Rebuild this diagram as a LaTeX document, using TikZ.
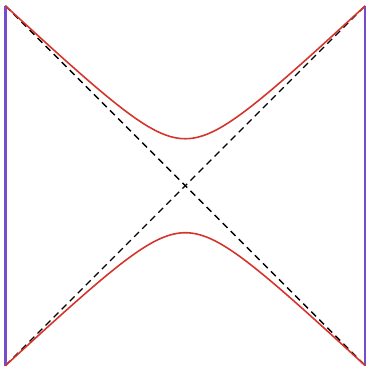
\documentclass[tikz,border=0pt]{standalone}
\usepackage{amsmath, amssymb}
\usepackage[dvipsnames]{xcolor}
\usepackage{tikz}
\usetikzlibrary{positioning}

\definecolor{bdry}{RGB}{120,75,205}
\definecolor{slice}{RGB}{212,52,42}

\begin{document}
\begin{tikzpicture}[scale=1.0]
				\useasboundingbox (-0.09,-0.02) rectangle (6.03,6.097);
				\coordinate (bl) at (0,0);
				\coordinate (br) at (6,0);
				\coordinate (tl) at (0,6);
				\coordinate (tr) at (6,6);
				\draw[black,line width=0.65pt,dash pattern=on 3.2pt off 2.2pt] (bl) -- (tr);
				\draw[black,line width=0.65pt,dash pattern=on 3.2pt off 2.2pt] (tl) -- (br);
				\draw[bdry,line width=1.1pt] (bl) -- (tl);
				\draw[bdry,line width=1.1pt] (br) -- (tr);
				\draw[slice,line width=0.75pt,domain=-90:90,samples=121,smooth] plot ({3+\x/30},{3+acos(0.917*cos(\x))/30});
				\draw[slice,line width=0.75pt,domain=-90:90,samples=121,smooth] plot ({3+\x/30},{3-acos(0.917*cos(\x))/30});
			\end{tikzpicture}
\end{document}
